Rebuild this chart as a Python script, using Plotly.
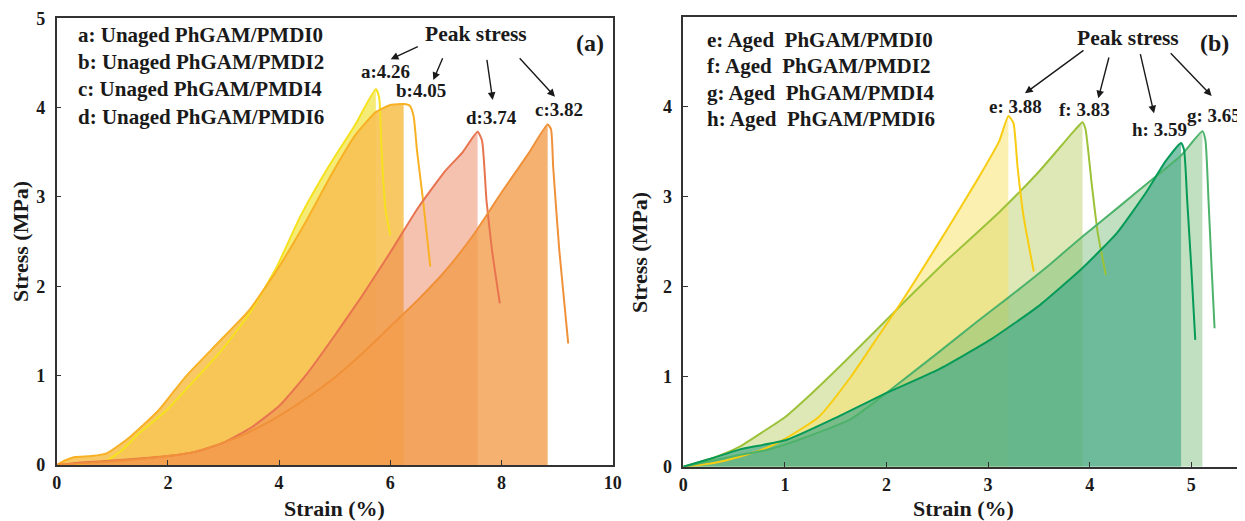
import plotly.graph_objects as go

# ---------------- data: panel (a) unaged ----------------
strain_a = [0, 0.5, 0.9, 1.2, 1.47, 1.97, 2.54, 2.96, 3.46, 3.96, 4.38, 4.88, 5.38, 5.74, 5.8, 5.84, 5.91, 6.0]
stress_a = [0, 0.02, 0.05, 0.18, 0.35, 0.61, 0.99, 1.28, 1.69, 2.22, 2.78, 3.33, 3.82, 4.21, 4.11, 3.55, 2.88, 2.57]

strain_b = [0, 0.15, 0.33, 0.62, 0.9, 1.33, 1.83, 2.32, 2.89, 3.46, 3.96, 4.46, 4.95, 5.38, 5.74, 6.0, 6.24, 6.35, 6.42, 6.48, 6.59, 6.72]
stress_b = [0, 0.05, 0.09, 0.1, 0.13, 0.32, 0.61, 0.99, 1.36, 1.73, 2.18, 2.7, 3.26, 3.7, 3.95, 4.03, 4.04, 4.02, 3.9, 3.52, 2.96, 2.22]

strain_c = [0, 0.5, 1.0, 2.0, 2.5, 3.0, 3.5, 4.0, 4.5, 5.0, 5.5, 6.0, 6.5, 7.0, 7.5, 8.0, 8.5, 8.83, 8.89, 8.93, 9.04, 9.2]
stress_c = [0, 0.02, 0.04, 0.1, 0.15, 0.25, 0.38, 0.55, 0.75, 0.98, 1.25, 1.55, 1.85, 2.18, 2.58, 3.05, 3.5, 3.81, 3.76, 3.33, 2.4, 1.36]

strain_d = [0, 0.5, 1.0, 2.0, 2.5, 3.0, 3.5, 4.0, 4.5, 5.0, 5.5, 6.0, 6.5, 7.0, 7.3, 7.57, 7.65, 7.73, 7.83, 7.97]
stress_d = [0, 0.03, 0.05, 0.1, 0.15, 0.25, 0.42, 0.66, 1.02, 1.45, 1.9, 2.38, 2.88, 3.3, 3.5, 3.73, 3.63, 2.96, 2.4, 1.81]

# ---------------- data: panel (b) aged ----------------
strain_e = [0, 0.3, 0.55, 0.8, 1.0, 1.33, 1.65, 1.92, 2.13, 2.4, 2.62, 2.9, 3.11, 3.2, 3.25, 3.29, 3.35, 3.45]
stress_e = [0, 0.04, 0.11, 0.2, 0.31, 0.55, 1.0, 1.45, 1.8, 2.28, 2.68, 3.2, 3.62, 3.9, 3.82, 3.34, 2.78, 2.17]

strain_f = [0, 0.3, 0.55, 0.8, 1.0, 1.25, 1.6, 2.13, 2.6, 3.11, 3.5, 3.86, 3.93, 3.96, 4.02, 4.08, 4.16]
stress_f = [0, 0.1, 0.22, 0.4, 0.55, 0.8, 1.18, 1.78, 2.3, 2.83, 3.28, 3.75, 3.83, 3.75, 3.15, 2.6, 2.13]

strain_g = [0, 0.3, 0.55, 0.8, 1.14, 1.65, 2.0, 2.5, 2.9, 3.2, 3.6, 3.93, 4.3, 4.6, 4.9, 5.11, 5.14, 5.17, 5.2, 5.23]
stress_g = [0, 0.07, 0.13, 0.18, 0.3, 0.53, 0.82, 1.26, 1.62, 1.88, 2.24, 2.56, 2.9, 3.18, 3.46, 3.73, 3.63, 2.97, 2.23, 1.54]

strain_h = [0, 0.3, 0.55, 1.02, 1.53, 2.0, 2.51, 3.02, 3.49, 3.93, 4.27, 4.55, 4.75, 4.9, 4.93, 4.96, 5.0, 5.04]
stress_h = [0, 0.1, 0.19, 0.3, 0.56, 0.82, 1.08, 1.41, 1.78, 2.21, 2.6, 3.04, 3.4, 3.6, 3.52, 2.97, 2.23, 1.41]

legend_a = ["a: Unaged PhGAM/PMDI0", "b: Unaged PhGAM/PMDI2",
            "c: Unaged PhGAM/PMDI4", "d: Unaged PhGAM/PMDI6"]
legend_b = ["e: Aged\u00a0 PhGAM/PMDI0", "f: Aged\u00a0 PhGAM/PMDI2",
            "g: Aged\u00a0 PhGAM/PMDI4", "h: Aged\u00a0 PhGAM/PMDI6"]
peak_labels_a = ["a:4.26", "b:4.05", "d:3.74", "c:3.82"]
peak_labels_b = ["e: 3.88", "f: 3.83", "h: 3.59", "g: 3.65"]
xticks_a = [0, 2, 4, 6, 8, 10]
xticks_b = [0, 1, 2, 3, 4, 5]
yticks = [0, 1, 2, 3, 4, 5]

# ---------------- styles ----------------
W, H = 1245, 521
OX, OY = 8, 8          # page body margin offset
FONT = "Liberation Serif, Times New Roman, serif"
TXT = "#1a1a1a"

# (x, y, line colour, fill colour) in drawing order of fills
panel_a = [
    (strain_a, stress_a, "#F6E11E", "rgba(240,228,60,0.70)"),
    (strain_b, stress_b, "#F8B024", "rgba(247,194,84,0.90)"),
    (strain_d, stress_d, "#E8744F", "rgba(236,120,80,0.45)"),
    (strain_c, stress_c, "#F0913A", "rgba(242,157,76,0.80)"),
]
panel_b = [
    (strain_f, stress_f, "#9CC23A", "rgba(190,210,110,0.50)"),
    (strain_e, stress_e, "#F8CC10", "rgba(249,226,100,0.50)"),
    (strain_g, stress_g, "#4DB36A", "rgba(108,180,110,0.42)"),
    (strain_h, stress_h, "#069A58", "rgba(73,171,137,0.70)"),
]

fig = go.Figure()


def add_panel(series, xa, ya):
    for xs, ys, lc, fc in series:
        k = ys.index(max(ys))
        fig.add_trace(go.Scatter(x=xs[:k + 1], y=ys[:k + 1], mode="lines",
                                 line=dict(width=0, shape="spline", smoothing=0.5),
                                 fill="tozeroy", fillcolor=fc,
                                 xaxis=xa, yaxis=ya, showlegend=False, hoverinfo="skip"))
    for xs, ys, lc, fc in series:
        fig.add_trace(go.Scatter(x=xs, y=ys, mode="lines",
                                 line=dict(width=2, color=lc, shape="spline", smoothing=0.5),
                                 xaxis=xa, yaxis=ya, showlegend=False))


add_panel(panel_a, "x", "y")
add_panel(panel_b, "x2", "y2")


def px(xp):
    return (xp - OX) / W


def py(yp):
    return 1 - (yp - OY) / H


axis_common = dict(showline=True, mirror=True, linecolor="#333333", linewidth=1.5,
                   ticks="inside", ticklen=5, tickwidth=1.2, tickcolor="#333333",
                   showgrid=False, zeroline=False, fixedrange=True, automargin=False,
                   tickfont=dict(family=FONT, size=18, color=TXT, weight="bold"))

fig.update_layout(
    width=W, height=H, margin=dict(l=0, r=0, t=0, b=0, autoexpand=False),
    paper_bgcolor="white", plot_bgcolor="white",
    xaxis=dict(domain=[px(56.7), px(612.7)], range=[0, 10], tickvals=xticks_a,
               anchor="y", ticklabelstandoff=1, **axis_common),
    yaxis=dict(domain=[py(465), py(18.3)], range=[0, 5], tickvals=yticks,
               anchor="x", ticklabelstandoff=6, **axis_common),
    xaxis2=dict(domain=[px(683.3), px(1242)], range=[0, 5.5], tickvals=xticks_b,
                anchor="y2", ticklabelstandoff=1, **axis_common),
    yaxis2=dict(domain=[py(466.7), py(17)], range=[0, 5], tickvals=yticks,
                anchor="x2", ticklabelstandoff=6, **axis_common),
)


def text(x, y, s, size, xanchor="center", angle=0):
    fig.add_annotation(x=px(x), y=py(y), xref="paper", yref="paper", text=s,
                       showarrow=False, xanchor=xanchor, yanchor="middle", textangle=angle,
                       font=dict(family=FONT, size=size, color=TXT, weight="bold"))


def arrow(x0, y0, x1, y1):
    fig.add_annotation(x=px(x1), y=py(y1), xref="paper", yref="paper",
                       ax=x0 - x1, ay=y0 - y1, text="", showarrow=True,
                       arrowhead=2, arrowsize=1.1, arrowwidth=1.4, arrowcolor="#1a1a1a")


# axis titles
text(334, 508, "Strain (%)", 22)
text(963, 508, "Strain (%)", 22)
text(20, 242, "Stress (MPa)", 22, angle=-90)
text(639, 252, "Stress (MPa)", 22, angle=-90)

# legends (text lists)
for i, s in enumerate(legend_a):
    text(76, 35 + i * 27.2, s, 21, xanchor="left")
for i, s in enumerate(legend_b):
    text(705, 40 + i * 26.4, s, 21, xanchor="left")

# panel letters
text(590, 43, "(a)", 24)
text(1214, 43, "(b)", 24)

# peak stress headers
text(476, 34, "Peak stress", 21.5)
text(1128, 38, "Peak stress", 21.5)

# peak labels
for (x, y), s in zip([(385, 71), (421, 90), (491, 118), (559, 109)], peak_labels_a):
    text(x, y, s, 19)
for (x, y), s in zip([(1015, 107), (1084, 109), (1159, 129), (1214, 116)], peak_labels_b):
    text(x, y, s, 19)

# arrows
for a in [(419.3, 46, 390.7, 59.3), (443.3, 56.7, 433.3, 80),
          (486.7, 58.3, 492.7, 100), (518.3, 56.7, 555, 96.7),
          (1085, 49.3, 1025, 93.3), (1109.3, 56, 1098.3, 98.3),
          (1140, 52.7, 1154, 113.3), (1169.3, 51.7, 1211.7, 96)]:
    arrow(*a)

fig.write_html("out.html")
